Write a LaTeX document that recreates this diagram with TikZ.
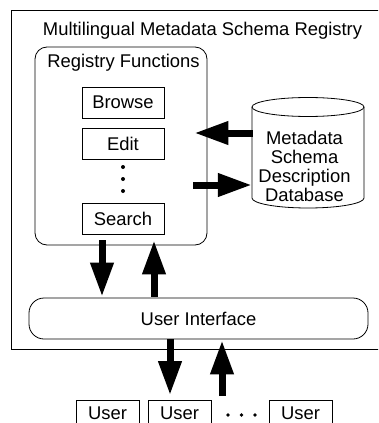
\documentclass[tikz,border=0pt]{standalone}
\usepackage{fontspec}
\setmainfont{Liberation Sans}
\usetikzlibrary{arrows.meta,calc}
\begin{document}
\begin{tikzpicture}[x=1pt,y=-1pt,
  every node/.style={font=\fontsize{18.4}{19}\selectfont, inner sep=0pt},
  thin line/.style={line width=0.8pt},
  fbox/.style={draw, thin line, fill=white, minimum width=82pt, minimum height=31pt},
  ubox/.style={draw, thin line, fill=white, minimum width=63pt, minimum height=26pt},
  rbox/.style={draw, thin line, fill=white},
  bigarrow/.style={line width=7pt, -{Triangle[length=34pt,width=22pt]}},
  ]
\useasboundingbox (0,0) rectangle (378,423);
\clip (0,0) rectangle (378,423);
% outer registry frame (right side open beyond the picture)
\draw[line width=0.9pt] (385,10) -- (11,10) -- (11,349) -- (385,349);
\node (title) at (202.5,31) {Multilingual Metadata Schema Registry};
% registry functions
\node[rbox, rounded corners=12pt, minimum width=172pt, minimum height=198pt] (reg) at (121,146) {};
\node (regt) at (123.5,63) {Registry Functions};
\node[fbox] (browse) at (123,102.5) {Browse};
\node[fbox] (edit) at (123,144) {Edit};
\node[fbox] (search) at (123,218.5) {Search};
\fill (123,167) circle (2pt);
\fill (123,179) circle (2pt);
\fill (123,191) circle (2pt);
% database cylinder
\draw[thin line, fill=white] (252,107) -- (252,198) arc[start angle=180, end angle=0, x radius=56, y radius=10] -- (364,107);
\draw[thin line, fill=white] (308,107) ellipse [x radius=56, y radius=9.5];
\node (cyl) [minimum width=112pt, minimum height=110pt] at (308,153) {};
\node[align=center] (db) at (304.5,166) {Metadata\\Schema\\Description\\Database};
% user interface
\node[rbox, rounded corners=15pt, minimum width=339pt, minimum height=41pt] (ui) at (198.5,318.5) {User Interface};
% users
\node[ubox] (u1) at (107.5,413.5) {User};
\node[ubox] (u2) at (179.5,413.5) {User};
\node[ubox] (u3) at (300.5,413.5) {User};
\fill (228,415) circle (1.8pt);
\fill (241.5,415) circle (1.8pt);
\fill (255,415) circle (1.8pt);
% arrows
\draw[bigarrow] ([yshift=20pt,xshift=1pt]cyl.west) -- ([yshift=13pt,xshift=-13pt]reg.east);
\draw[bigarrow] ([yshift=-39pt,xshift=-14pt]reg.east) -- ([yshift=-32pt]cyl.west);
\draw[bigarrow] ([xshift=-19pt,yshift=5pt]reg.south) -- ([xshift=-96.5pt,yshift=1pt]ui.north);
\draw[bigarrow] ([xshift=-44.5pt,yshift=1pt]ui.north) -- ([xshift=33pt,yshift=5pt]reg.south);
\draw[bigarrow] ([xshift=-28.5pt]ui.south) -- ([xshift=-9.5pt,yshift=5pt]u2.north);
\draw[bigarrow] ([xshift=42.5pt,yshift=4pt]u2.north) -- ([xshift=23.5pt,yshift=-1pt]ui.south);
\end{tikzpicture}
\end{document}
